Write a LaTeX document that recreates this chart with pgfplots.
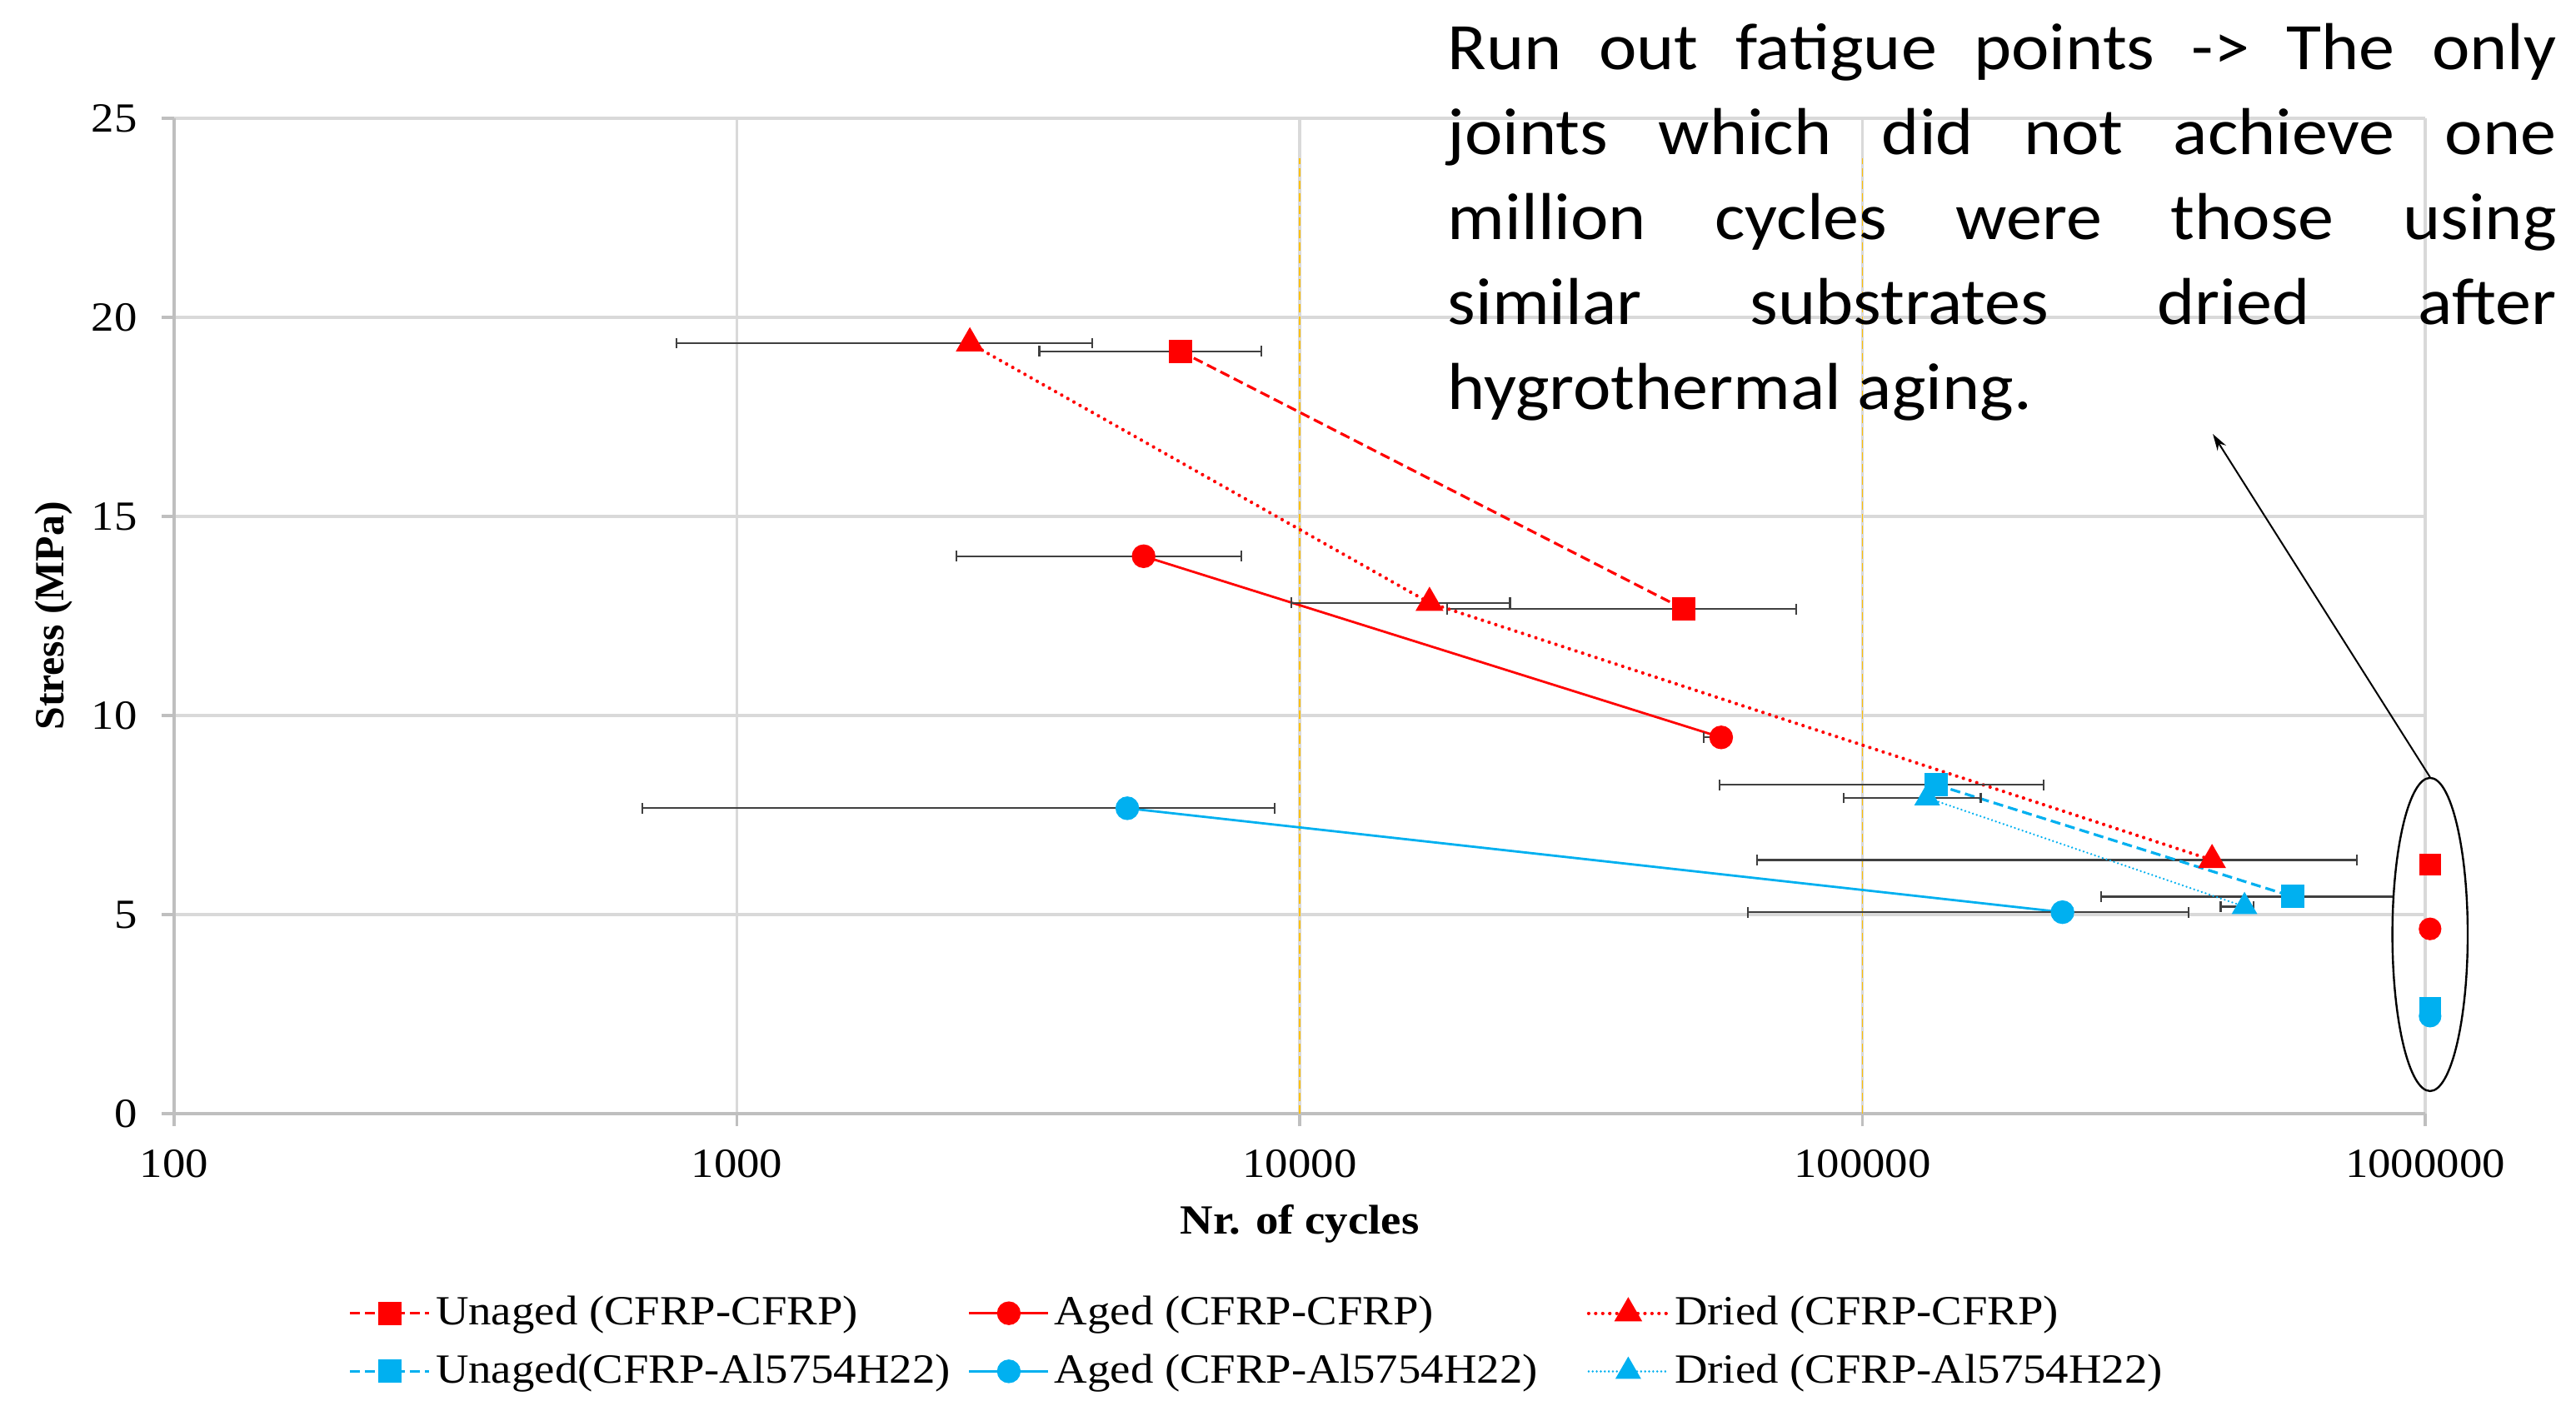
\documentclass[border=0pt]{standalone}
\usepackage{fontspec}
\setmainfont{Liberation Serif}[FakeStretch=1.1]
\newfontfamily\plainserif{Liberation Serif}
\newfontfamily\calib{Carlito}[FakeStretch=1.08]
\usepackage{pgfplots}
\pgfplotsset{compat=1.18}
\usetikzlibrary{arrows.meta}

\definecolor{cred}{HTML}{FF0000}
\definecolor{cblue}{HTML}{00B0F0}
\definecolor{gridgray}{HTML}{D9D9D9}
\definecolor{axgray}{HTML}{BFBFBF}
\definecolor{errgray}{HTML}{404040}
\definecolor{gold}{HTML}{FFC000}

\pgfplotsset{
  ebars/.style={
    /pgfplots/error bars/x dir=both,
    /pgfplots/error bars/x explicit,
    /pgfplots/error bars/error mark=|,
    /pgfplots/error bars/error bar style={draw=errgray, line width=0.55bp, solid},
    /pgfplots/error bars/error mark options={draw=errgray, line width=0.55bp, mark size=1.6bp, solid},
  },
  dashedline/.style={line width=0.8bp, dash pattern=on 3bp off 1.5bp},
  solidline/.style={line width=0.7bp},
  dottedline/.style={line width=1.05bp, line cap=round, dash pattern=on 0.01bp off 2.1bp},
  finedots/.style={line width=0.65bp, line cap=round, dash pattern=on 0.01bp off 1.2bp},
}
\newcommand{\leg}[1]{\makebox[161.25bp][l]{\hspace{1.5bp}#1}}

\begin{document}
\begin{tikzpicture}
\begin{axis}[
  at={(0,0)}, anchor=south west,
  scale only axis, width=675.5bp, height=298.75bp,
  xmode=log, log basis x=10,
  xmin=100, xmax=1000000, ymin=0, ymax=25,
  xtick={100,1000,10000,100000,1000000},
  xticklabels={100,1000,10000,100000,1000000},
  ytick={0,5,10,15,20,25},
  xminorticks=false,
  /pgf/number format/assume math mode=true,
  axis lines=left,
  axis line style={draw=axgray, line width=0.8bp, -},
  grid=major,
  major grid style={draw=gridgray, line width=0.8bp},
  tick align=outside,
  major tick length=3.75bp,
  tick style={draw=axgray, line width=0.8bp},
  ticklabel style={font=\fontsize{12.5}{15}\selectfont},
  yticklabel style={xshift=-3.8bp},
  xticklabel style={yshift=-3.5bp},
  xlabel={Nr. of cycles},
  ylabel={Stress (MPa)},
  xlabel style={at={(axis description cs:0.5,-0.1213)}, anchor=base,
    font=\fontsize{12.5}{15}\selectfont\bfseries},
  ylabel style={at={(axis description cs:-0.0533,0.5)}, anchor=center,
    font=\plainserif\fontsize{12.5}{15}\selectfont\bfseries},
  clip=false,
  legend columns=3,
  legend cell align=left,
  legend style={at={(axis description cs:0.07735,-0.1829)}, anchor=north west,
    draw=none, fill=none, inner sep=0pt, row sep=7.3bp,
    font=\fontsize{12.5}{15}\selectfont, nodes={inner sep=0pt}},
  legend image code/.code={\draw[mark repeat=2,mark phase=2,#1]
    plot coordinates {(0bp,0bp) (11.875bp,0bp) (23.75bp,0bp)};},
]

% reference lines at 1e4 and 1e5
\addplot[forget plot, draw=gold, line width=0.45bp, dash pattern=on 2.5bp off 1.2bp]
  coordinates {(10000,0) (10000,24)};
\addplot[forget plot, draw=gold, line width=0.45bp, dash pattern=on 2.5bp off 1.2bp]
  coordinates {(100000,0) (100000,24)};

% CFRP-CFRP
\addplot[draw=cred, dashedline, mark=square*, mark size=3.1bp,
  mark options={solid, fill=cred, draw=cred}, ebars]
  coordinates {
    (6138,19.15)  -= (2691,0)  += (2412,0)
    (48200,12.67) -= (29900,0) += (28000,0)
  };
\addlegendentry{\leg{Unaged (CFRP-CFRP)}}

\addplot[draw=cred, solidline, mark=*, mark size=3.2bp,
  mark options={solid, fill=cred, draw=cred}, ebars]
  coordinates {
    (5281,14.0)  -= (2826,0) += (2606,0)
    (56100,9.45) -= (3900,0) += (1300,0)
  };
\addlegendentry{\leg{Aged (CFRP-CFRP)}}

\addplot[draw=cred, dottedline, mark=triangle*, mark size=3.8bp,
  mark options={solid, fill=cred, draw=cred}, ebars]
  coordinates {
    (2594,19.35)  -= (1814,0)   += (1691,0)
    (17010,12.83) -= (7350,0)   += (6640,0)
    (418000,6.37) -= (353000,0) += (338000,0)
  };
\addlegendentry{\leg{Dried (CFRP-CFRP)}}

% CFRP-Al5754H22
\addplot[draw=cblue, dashedline, mark=square*, mark size=3.1bp,
  mark options={solid, fill=cblue, draw=cblue}, ebars]
  coordinates {
    (135300,8.26) -= (79600,0)  += (74500,0)
    (582000,5.45) -= (316600,0) += (297000,0)
  };
\addlegendentry{\leg{Unaged(CFRP-Al5754H22)}}

\addplot[draw=cblue, solidline, mark=*, mark size=3.2bp,
  mark options={solid, fill=cblue, draw=cblue}, ebars]
  coordinates {
    (4940,7.67)   -= (4261,0)   += (4095,0)
    (226700,5.06) -= (164200,0) += (153300,0)
  };
\addlegendentry{\leg{Aged (CFRP-Al5754H22)}}

\addplot[draw=cblue, finedots, mark=triangle*, mark size=3.8bp,
  mark options={solid, fill=cblue, draw=cblue}, ebars]
  coordinates {
    (130300,7.93) -= (37600,0) += (32000,0)
    (477400,5.2)  -= (44400,0) += (17600,0)
  };
\addlegendentry{\leg{Dried (CFRP-Al5754H22)}}

% run-out points at one million cycles
\addplot[forget plot, only marks, mark=square*, mark size=3.1bp, fill=cred, draw=cred]
  coordinates {(1020000,6.25)};
\addplot[forget plot, only marks, mark=*, mark size=3.2bp, fill=cred, draw=cred]
  coordinates {(1020000,4.64)};
\addplot[forget plot, only marks, mark=*, mark size=3.2bp, fill=cblue, draw=cblue]
  coordinates {(1020000,2.45)};
\addplot[forget plot, only marks, mark=square*, mark size=3.1bp, fill=cblue, draw=cblue]
  coordinates {(1020000,2.65)};

\draw[black, line width=0.6bp] (axis cs:1020000,4.5) ellipse [x radius=11.3bp, y radius=47bp];
\draw[black, line width=0.5bp, -{Stealth[length=5bp,width=3bp]}]
  (axis cs:1020000,8.45) -- (axis cs:419400,17.07);
\end{axis}

\begin{scope}[every node/.style={anchor=base west, inner sep=0pt,
    font=\calib\fontsize{20}{25.5}\selectfont}]
\node at (382bp,313.25bp) {\makebox[332.75bp][s]{Run out fatigue points -> The only}};
\node at (382bp,287.75bp) {\makebox[332.75bp][s]{joints which did not achieve one}};
\node at (382bp,262.25bp) {\makebox[332.75bp][s]{million cycles were those using}};
\node at (382bp,236.75bp) {\makebox[332.75bp][s]{similar substrates dried after}};
\node at (382bp,211.25bp) {hygrothermal aging.};
\end{scope}

\pgfresetboundingbox
\path[use as bounding box] (-52.25bp,-86.25bp) rectangle (720.75bp,334.25bp);
\end{tikzpicture}
\end{document}
